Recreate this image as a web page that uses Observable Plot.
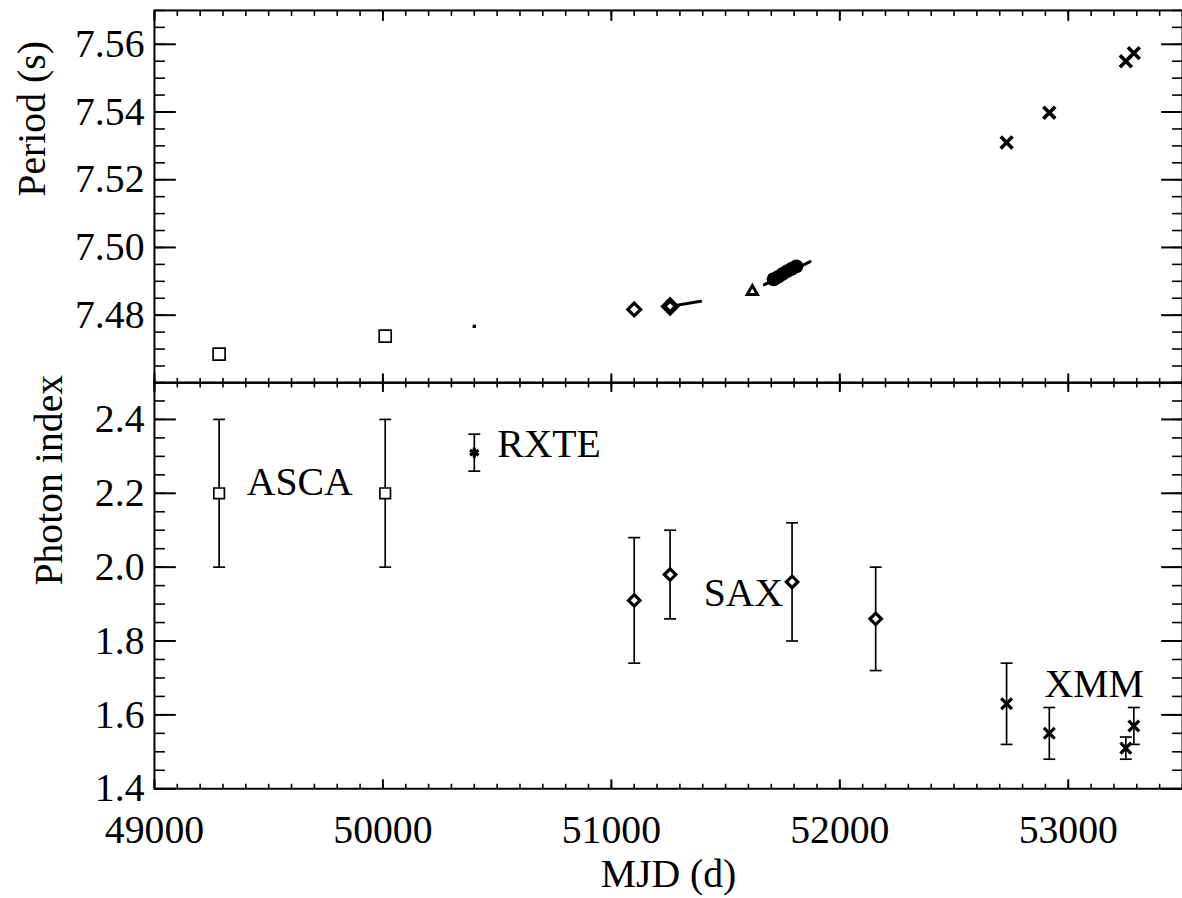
<!DOCTYPE html>
<html><head><meta charset="utf-8">
<script src="https://cdn.jsdelivr.net/npm/d3@7"></script>
<script src="https://cdn.jsdelivr.net/npm/@observablehq/plot@0.6"></script>
<style>
body{margin:0;background:#fff;overflow:hidden}
#wrap{width:1182px;height:898px;overflow:hidden;background:#fff}
#wrap svg{display:block}
</style></head><body><div id="wrap"></div>
<script>
// ---------- data ----------
// ASCA
const ascaMJD = [49283, 50010];
const ascaPeriod = [7.4685, 7.4738];
const ascaIndex = [2.20, 2.20];
const ascaIndexLo = [2.00, 2.00];
const ascaIndexHi = [2.40, 2.40];
// RXTE
const rxteMJD = [50400];
const rxtePeriod = [7.4767];
const rxteIndex = [2.31];
const rxteIndexLo = [2.26];
const rxteIndexHi = [2.36];
// BeppoSAX (period panel)
const saxPeriodMJD = [51100, 51257];
const saxPeriod = [7.4817, 7.4826];
const saxTrendMJD = [51257, 51391];
const saxTrendPeriod = [7.4826, 7.4841];
// triangle point (period panel)
const triMJD = [51617];
const triPeriod = [7.4870];
// dense cluster of timing points
const blobMJD = [51710, 51730, 51750, 51770, 51790, 51810];
const blobPeriod = [7.4906, 7.4913, 7.4922, 7.4930, 7.4937, 7.4944];
const blobTrendMJD = [51670, 51870];
const blobTrendPeriod = [7.4890, 7.4958];
// BeppoSAX (photon index panel)
const saxIndexMJD = [51100, 51257, 51791, 52157];
const saxIndex = [1.91, 1.98, 1.96, 1.86];
const saxIndexLo = [1.74, 1.86, 1.80, 1.72];
const saxIndexHi = [2.08, 2.10, 2.12, 2.00];
// XMM-Newton
const xmmMJD = [52730, 52917, 53252, 53287];
const xmmPeriod = [7.5310, 7.5398, 7.5550, 7.5574];
const xmmIndex = [1.63, 1.55, 1.51, 1.57];
const xmmIndexLo = [1.52, 1.48, 1.48, 1.52];
const xmmIndexHi = [1.74, 1.62, 1.54, 1.62];
// instrument labels
const labelText = ["ASCA", "RXTE", "SAX", "XMM"];
const labelMJD = [49404, 50500, 51404, 52896];
const labelIndex = [2.231, 2.333, 1.930, 1.682];
// tick labels
const mjdTicks = [49000, 50000, 51000, 52000, 53000];
const periodTicks = [7.48, 7.50, 7.52, 7.54, 7.56];
const indexTicks = [1.4, 1.6, 1.8, 2.0, 2.2, 2.4];

// ---------- helpers ----------
const zip = (o) => { const k = Object.keys(o); return o[k[0]].map((_, i) => Object.fromEntries(k.map(key => [key, o[key][i]]))); };
const steps = (a, b, s) => d3.range(Math.round((b - a) / s) + 1).map(i => +(a + i * s).toFixed(6));
const FONT = '"Liberation Serif","Times New Roman",serif';
const FS = 40;
const W = 1190;
const xDomain = [49000, 53500];
const capSymbol = { draw(ctx, size) { const w = Math.sqrt(size / Math.PI); ctx.moveTo(-w, 0); ctx.lineTo(w, 0); } };

const xMinor = steps(49000, 53500, 100);

function frameAxes(yMajor, yMinor, xTop, xBottom) {
  return [
    Plot.frame({stroke: "#000", strokeWidth: 2}),
    Plot.axisY(yMajor, {anchor: "left", tickSize: -22, strokeWidth: 2, fill: "none", label: null}),
    Plot.axisY(yMinor, {anchor: "left", tickSize: -11, strokeWidth: 1.6, fill: "none", label: null}),
    Plot.axisY(yMajor, {anchor: "right", tickSize: -22, strokeWidth: 2, fill: "none", label: null}),
    Plot.axisY(yMinor, {anchor: "right", tickSize: -11, strokeWidth: 1.6, fill: "none", label: null}),
    Plot.axisX(mjdTicks, {anchor: "top", tickSize: -xTop, strokeWidth: 2, fill: "none", label: null}),
    Plot.axisX(xMinor, {anchor: "top", tickSize: -xTop / 2, strokeWidth: 1.6, fill: "none", label: null}),
    Plot.axisX(mjdTicks, {anchor: "bottom", tickSize: -xBottom, strokeWidth: 2, fill: "none", label: null}),
    Plot.axisX(xMinor, {anchor: "bottom", tickSize: -xBottom / 2, strokeWidth: 1.6, fill: "none", label: null})
  ];
}

// ---------- top panel: period ----------
const topPlot = Plot.plot({
  width: W, height: 385,
  marginLeft: 155, marginRight: 0, marginTop: 10, marginBottom: 0,
  style: {fontFamily: FONT, fontSize: FS + "px", color: "#000", background: "#fff", overflow: "visible"},
  x: {domain: xDomain},
  y: {domain: [7.46, 7.57]},
  marks: [
    ...frameAxes(periodTicks, steps(7.46, 7.57, 0.005), 10, 9),
    Plot.axisY(periodTicks, {anchor: "left", tickSize: 0, tickPadding: 10, tickFormat: d3.format(".2f"), fontSize: FS, fontFamily: FONT, label: null}),
    Plot.text(["Period (s)"], {frameAnchor: "left", dx: -123, rotate: -90, lineAnchor: "middle", fontSize: FS, fontFamily: FONT, fill: "#000"}),
    Plot.dot(zip({x: ascaMJD, y: ascaPeriod}), {x: "x", y: "y", symbol: "square", r: 6.8, stroke: "#000", strokeWidth: 1.7, fill: "none"}),
    Plot.dot(zip({x: rxteMJD, y: rxtePeriod}), {x: "x", y: "y", symbol: "square", r: 1.9, fill: "#000"}),
    Plot.line(zip({x: saxTrendMJD, y: saxTrendPeriod}), {x: "x", y: "y", stroke: "#000", strokeWidth: 3}),
    Plot.dot(zip({x: saxPeriodMJD.slice(0, 1), y: saxPeriod.slice(0, 1)}), {x: "x", y: "y", symbol: "diamond2", r: 5.8, stroke: "#000", strokeWidth: 3.2, fill: "#fff"}),
    Plot.dot(zip({x: saxPeriodMJD.slice(1), y: saxPeriod.slice(1)}), {x: "x", y: "y", symbol: "diamond2", r: 5.8, stroke: "#000", strokeWidth: 4.8, fill: "#fff"}),
    Plot.dot(zip({x: triMJD, y: triPeriod}), {x: "x", y: "y", symbol: "triangle", r: 3.8, stroke: "#000", strokeWidth: 3, fill: "#fff"}),
    Plot.line(zip({x: blobTrendMJD, y: blobTrendPeriod}), {x: "x", y: "y", stroke: "#000", strokeWidth: 3}),
    Plot.dot(zip({x: blobMJD, y: blobPeriod}), {x: "x", y: "y", r: 7, fill: "#000"}),
    Plot.dot(zip({x: xmmMJD, y: xmmPeriod}), {x: "x", y: "y", symbol: "times", r: 5.5, stroke: "#000", strokeWidth: 3.6})
  ]
});

// ---------- bottom panel: photon index ----------
const errData = [
  ...zip({x: ascaMJD, y: ascaIndex, lo: ascaIndexLo, hi: ascaIndexHi}),
  ...zip({x: rxteMJD, y: rxteIndex, lo: rxteIndexLo, hi: rxteIndexHi}),
  ...zip({x: saxIndexMJD, y: saxIndex, lo: saxIndexLo, hi: saxIndexHi}),
  ...zip({x: xmmMJD, y: xmmIndex, lo: xmmIndexLo, hi: xmmIndexHi})
];

const bottomPlot = Plot.plot({
  width: W, height: 513,
  marginLeft: 155, marginRight: 0, marginTop: 0, marginBottom: 104,
  style: {fontFamily: FONT, fontSize: FS + "px", color: "#000", background: "#fff", overflow: "visible"},
  x: {domain: xDomain},
  y: {domain: [1.4, 2.5]},
  marks: [
    ...frameAxes(indexTicks, steps(1.4, 2.5, 0.05), 9, 9),
    Plot.axisY(indexTicks, {anchor: "left", tickSize: 0, tickPadding: 10, tickFormat: d3.format(".1f"), fontSize: FS, fontFamily: FONT, label: null}),
    Plot.axisX(mjdTicks, {anchor: "bottom", tickSize: 0, tickPadding: 26, tickFormat: d3.format("d"), fontSize: FS, fontFamily: FONT, label: null}),
    Plot.text(["Photon index"], {frameAnchor: "left", dx: -106, rotate: -90, lineAnchor: "middle", fontSize: FS, fontFamily: FONT, fill: "#000"}),
    Plot.text(["MJD (d)"], {frameAnchor: "bottom", dy: 86, lineAnchor: "middle", fontSize: FS, fontFamily: FONT, fill: "#000"}),
    Plot.ruleX(errData, {x: "x", y1: "lo", y2: "hi", stroke: "#000", strokeWidth: 1.7}),
    Plot.dot(errData, {x: "x", y: "lo", symbol: capSymbol, r: 6, stroke: "#000", strokeWidth: 1.7, fill: "none"}),
    Plot.dot(errData, {x: "x", y: "hi", symbol: capSymbol, r: 6, stroke: "#000", strokeWidth: 1.7, fill: "none"}),
    Plot.dot(zip({x: ascaMJD, y: ascaIndex}), {x: "x", y: "y", symbol: "square", r: 6, stroke: "#000", strokeWidth: 1.7, fill: "#fff"}),
    Plot.dot(zip({x: rxteMJD, y: rxteIndex}), {x: "x", y: "y", symbol: "asterisk", r: 4.8, stroke: "#000", strokeWidth: 3.2}),
    Plot.dot(zip({x: saxIndexMJD, y: saxIndex}), {x: "x", y: "y", symbol: "diamond2", r: 5.2, stroke: "#000", strokeWidth: 3.2, fill: "#fff"}),
    Plot.dot(zip({x: xmmMJD, y: xmmIndex}), {x: "x", y: "y", symbol: "times", r: 5, stroke: "#000", strokeWidth: 3.2}),
    Plot.text(zip({x: labelMJD, y: labelIndex, t: labelText}), {x: "x", y: "y", text: "t", textAnchor: "start", lineAnchor: "middle", fontSize: FS, fontFamily: FONT, fill: "#000"})
  ]
});

const wrap = document.getElementById("wrap");
wrap.appendChild(topPlot);
wrap.appendChild(bottomPlot);
</script>
</body></html>
